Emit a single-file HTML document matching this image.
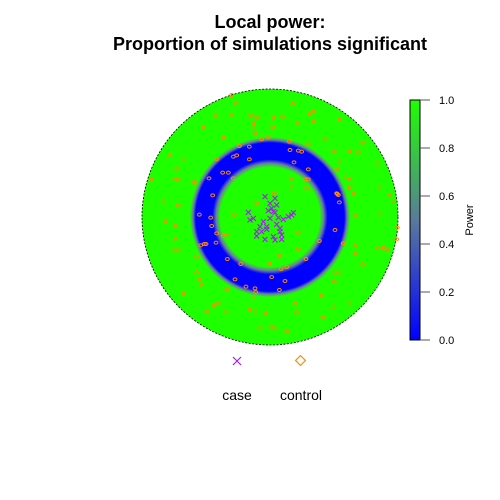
<!DOCTYPE html>
<html><head><meta charset="utf-8"><style>
html,body{margin:0;padding:0;background:#fff;}
svg{display:block;font-family:"Liberation Sans",Arial,sans-serif;}
</style></head><body>
<svg id="chart" width="500" height="500" viewBox="0 0 500 500">
<defs>
<radialGradient id="ringGrad" cx="0.5" cy="0.5" r="0.5">
<stop offset="0" stop-color="#1eff00"/>
<stop offset="0.39" stop-color="#1eff00"/>
<stop offset="0.42" stop-color="#6a7fa0"/>
<stop offset="0.45" stop-color="#0000ff"/>
<stop offset="0.58" stop-color="#0000ff"/>
<stop offset="0.602" stop-color="#6a7fa0"/>
<stop offset="0.625" stop-color="#1eff00"/>
<stop offset="1" stop-color="#1eff00"/>
</radialGradient>
<linearGradient id="cbGrad" x1="0" y1="1" x2="0" y2="0">
<stop offset="0" stop-color="#0000ff"/>
<stop offset="0.5" stop-color="#5a7a9a"/>
<stop offset="1" stop-color="#1eff00"/>
</linearGradient>
</defs>
<text x="270" y="28" text-anchor="middle" font-size="18" font-weight="bold">Local power:</text>
<text x="270" y="50" text-anchor="middle" font-size="18" font-weight="bold">Proportion of simulations significant</text>
<circle cx="270" cy="217" r="128" fill="url(#ringGrad)" stroke="#000" stroke-width="0.8" stroke-dasharray="2,1.5"/>
<g id="controls"></g>
<g id="cases"></g>
<rect x="410" y="100" width="10" height="240" fill="url(#cbGrad)" stroke="#000" stroke-width="1"/>
<g id="cbticks"></g>
<text x="473" y="220" font-size="11" text-anchor="middle" transform="rotate(-90 473 220)">Power</text>
<g>
<path d="M233,357L241,365M233,365L241,357" stroke="#a020f0" stroke-width="1.2"/>
<rect x="297" y="357" width="7" height="7" fill="none" stroke="#ff8c00" stroke-width="1.2" transform="rotate(45 300.5 360.5)"/>
<text x="237" y="400" text-anchor="middle" font-size="14">case</text>
<text x="301" y="400" text-anchor="middle" font-size="14">control</text>
</g>
</svg>
<script>
const controlX=[275,288,458,228,275,332,350,400,428,508,520,522,598,340,340,190,398,472,345,250,365,385,555,668,448,298,328,505,450,475,485,583,628,655,90,130,230,290,280,328,462,598,712,110,505,590,248,265,280,207,495,505,105,115,160,165,455,617,630,35,630,718,455,500,218,403,590,595,748,70,115,598,760,350,178,645,718,75,212,107,215,283,230,250,262,475,585,610,107,182,198,193,228,538,645,102,115,475,715,732,740,420,170,262,302,388,498,648,423,440,170,585,598,668,178,285,395,435,583,185,318,345,347,418,130,260,545,340,235,220,628,580,465,200,258,328,347,470,375,548,360,393,405,440,770,772,592,640];
const controlY=[45,72,72,105,108,105,112,112,110,100,95,125,118,130,140,143,142,132,160,172,178,172,176,188,185,198,200,193,210,212,215,215,215,217,228,236,238,226,230,238,247,242,248,266,268,268,278,278,295,295,298,298,300,300,303,308,300,290,300,298,322,325,325,325,346,340,340,345,348,362,376,367,362,370,404,405,403,424,413,436,438,404,460,468,468,458,450,490,480,496,492,492,488,483,498,511,511,507,505,503,508,526,530,537,552,550,537,520,567,561,577,578,578,553,598,598,591,603,606,618,620,625,636,630,640,628,646,655,670,677,673,680,672,695,697,688,697,697,700,712,745,740,745,755,478,443,342,340];
const caseX=[375,405,390,410,395,385,400,325,405,460,455,445,415,430,340,330,370,390,380,410,420,360,350,365,380,420,425,350,375,405,425,400];
const caseY=[350,355,370,375,385,392,395,397,398,398,405,410,413,418,415,420,425,415,440,433,445,440,455,455,448,455,465,468,478,480,478,470];
const cbTicks=[0,0.2,0.4,0.6,0.8,1.0];
const cbLabels=["0.0","0.2","0.4","0.6","0.8","1.0"];
const NS="http://www.w3.org/2000/svg";
const sx=v=>140+v*270/810, sy=v=>80+v*270/810;
const cbY=v=>340-v*240;
const gc=document.getElementById('controls');
for(let i=0;i<controlX.length;i++){
 const e=document.createElementNS(NS,'ellipse');
 e.setAttribute('cx',sx(controlX[i]));e.setAttribute('cy',sy(controlY[i]));
 e.setAttribute('rx',1.9);e.setAttribute('ry',1.5);
 e.setAttribute('fill','none');e.setAttribute('stroke','#ff8c00');e.setAttribute('stroke-width','1');
 
 
 gc.appendChild(e);
}
const gk=document.getElementById('cases');
for(let i=0;i<caseX.length;i++){
 const x=sx(caseX[i]),y=sy(caseY[i]);
 const p=document.createElementNS(NS,'path');
 p.setAttribute('d',`M${x-2.5},${y-2.5}L${x+2.5},${y+2.5}M${x-2.5},${y+2.5}L${x+2.5},${y-2.5}`);
 p.setAttribute('stroke','#a020f0');p.setAttribute('stroke-width','1.1');
 
 
 gk.appendChild(p);
}
const gt=document.getElementById('cbticks');
for(let i=0;i<cbTicks.length;i++){
 const y=cbY(cbTicks[i]);
 const l=document.createElementNS(NS,'line');
 l.setAttribute('x1',420);l.setAttribute('x2',430);l.setAttribute('y1',y);l.setAttribute('y2',y);
 l.setAttribute('stroke','#555');
 
 
 gt.appendChild(l);
 const t=document.createElementNS(NS,'text');
 t.setAttribute('x',439);t.setAttribute('y',y+4);t.setAttribute('font-size','11');
 t.textContent=cbLabels[i];
 
 
 gt.appendChild(t);
}
</script>
</body></html>
